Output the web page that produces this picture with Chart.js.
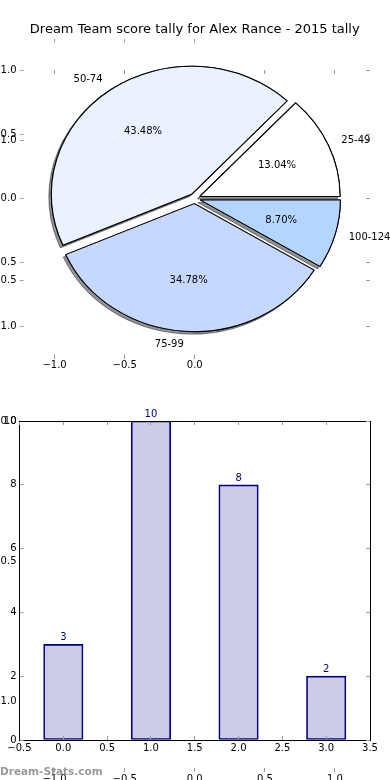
<!DOCTYPE html>
<html>
<head>
<meta charset="utf-8">
<title>Dream Team score tally</title>
<script src="https://cdn.jsdelivr.net/npm/chart.js@4.4.1/dist/chart.umd.min.js"></script>
<style>
  body { margin: 0; background: #fff; }
  #figure { position: relative; width: 390px; height: 780px; overflow: hidden; }
  #figure canvas { position: absolute; left: 0; top: 0; }
</style>
</head>
<body>
<div id="figure">
  <canvas id="outerAxes" width="390" height="820"></canvas>
  <canvas id="pieAxes" width="390" height="780"></canvas>
  <canvas id="pieChart" width="390" height="780"></canvas>
  <canvas id="barChart" width="390" height="780"></canvas>
</div>
<script>
// Chart data
const chartTitle = 'Dream Team score tally for Alex Rance - 2015 tally';
const scoreRanges = ['25-49', '50-74', '75-99', '100-124'];
const gameCounts = [3, 10, 8, 2];
const barIndex = [0, 1, 2, 3];
const explodeFraction = 0.04;
const barWidthUnits = 0.45;
const watermark = 'Dream-Stats.com';

// Tick labels
const unitTicks = [-1.0, -0.5, 0.0, 0.5, 1.0];
const pieXTicks = [-1.0, -0.5, 0.0];
const barXTicks = [-0.5, 0.0, 0.5, 1.0, 1.5, 2.0, 2.5, 3.0, 3.5];
const barYTicks = [0, 2, 4, 6, 8, 10];

// Styles
const sliceColours = ['#ffffff', '#eaf1ff', '#c5d8ff', '#b3d5ff'];
const FONT = 'DejaVu Sans';
const TICK_GREY = '#9a9a9a';
const NAVY = '#000080';
const PIE_R = 128;            // vertical radius in px
const SX = 140.2 / PIE_R;     // pie is wider than tall (no equal aspect)
const LABEL_ROOM = 30;        // room for labels below the bottom axes

function fmtUnit(v) {
    return (v < 0 ? '\u2212' : '') + Math.abs(v).toFixed(1);
}

// padding so that the plot area lands exactly on box
function boxPadding(box, leftSize, bottomSize, canvasHeight) {
    return {
        left: box.left - leftSize,
        top: box.top,
        right: 390 - box.right,
        bottom: Math.max((canvasHeight || 780) - box.bottom - bottomSize, 0)
    };
}

// matplotlib style axis: ticks point inward, optional labels / spine
function axis(position, min, max, ticks, opts) {
    opts = opts || {};
    const horizontal = position === 'top' || position === 'bottom';
    return {
        type: 'linear',
        position: position,
        min: min,
        max: max,
        offset: false,
        afterBuildTicks: function (scale) {
            scale.ticks = ticks.map(function (v) { return { value: v }; });
        },
        afterFit: function (scale) {
            if (horizontal) scale.height = opts.size || 0; else scale.width = opts.size || 0;
        },
        grid: { offset: false, drawOnChartArea: false, drawTicks: true, tickLength: -4, tickColor: TICK_GREY, tickWidth: 1, z: 1 },
        border: { display: !!opts.frame, color: '#000', width: 1, z: 1 },
        ticks: {
            display: !!opts.labels,
            padding: opts.padding || 0,
            color: '#000',
            font: { family: FONT, size: 10 },
            maxRotation: 0,
            autoSkip: false,
            callback: opts.format || fmtUnit
        }
    };
}

const baseOptions = {
    responsive: false,
    animation: false,
    devicePixelRatio: 1,
    events: [],
    plugins: { legend: { display: false }, tooltip: { enabled: false } }
};

// Empty full-height axes behind everything (canvas runs past the bottom edge)
const outerBox = { left: 19.5, right: 370, top: 70, bottom: 772 };
new Chart(document.getElementById('outerAxes'), {
    type: 'scatter',
    data: { datasets: [] },
    options: Object.assign({}, baseOptions, {
        layout: { padding: boxPadding(outerBox, outerBox.left, LABEL_ROOM, 820) },
        scales: {
            x: axis('bottom', -1.25, 1.25, unitTicks, { labels: true, padding: 5, size: LABEL_ROOM }),
            y: axis('left', -1.25, 1.25, unitTicks, { labels: true, padding: 7, size: outerBox.left }),
            x2: axis('top', -1.25, 1.25, unitTicks),
            y2: axis('right', -1.25, 1.25, unitTicks)
        }
    })
});

// Axes of the pie (no frame) + title
const pieBox = { left: 19.5, right: 370, top: 38.5, bottom: 358.5 };
const titlePlugin = {
    id: 'figTitle',
    afterDraw: function (chart) {
        const ctx = chart.ctx;
        ctx.save();
        ctx.font = '13px "' + FONT + '"';
        ctx.fillStyle = '#000';
        ctx.textAlign = 'center';
        ctx.textBaseline = 'middle';
        ctx.fillText(chartTitle, 194.75, 30);
        ctx.restore();
    }
};
new Chart(document.getElementById('pieAxes'), {
    type: 'scatter',
    data: { datasets: [] },
    plugins: [titlePlugin],
    options: Object.assign({}, baseOptions, {
        layout: { padding: boxPadding(pieBox, pieBox.left, LABEL_ROOM) },
        scales: {
            x: axis('bottom', -1.25, 1.25, pieXTicks, { labels: true, padding: 5, size: LABEL_ROOM }),
            y: axis('left', -1.25, 1.25, unitTicks, { labels: true, padding: 7, size: pieBox.left }),
            x2: axis('top', -1.25, 1.25, pieXTicks),
            y2: axis('right', -1.25, 1.25, unitTicks)
        }
    })
});

// Pie: stretched horizontally, exploded, shadow under the wedges
const total = gameCounts.reduce(function (a, b) { return a + b; }, 0);
const pieLabels = scoreRanges.slice().reverse();
const pieValues = gameCounts.slice().reverse();
const pieFills = sliceColours.slice().reverse();

function drawWedges(ctx, arcs) {
    const e = explodeFraction * PIE_R;
    arcs.forEach(function (arc) {
        const mid = (arc.startAngle + arc.endAngle) / 2;
        ctx.save();
        ctx.translate(Math.cos(mid) * e, Math.sin(mid) * e);
        arc.draw(ctx);
        ctx.restore();
    });
}

const pieStretch = {
    id: 'pieStretch',
    beforeDatasetsDraw: function (chart) {
        const ctx = chart.ctx;
        const arcs = chart.getDatasetMeta(0).data;
        const cx = arcs[0].x, cy = arcs[0].y;
        ctx.save();
        ctx.translate(cx, cy);
        ctx.scale(SX, 1);
        ctx.translate(-cx, -cy);
        ctx.save();
        ctx.shadowColor = 'rgba(0,0,0,0.42)';
        ctx.shadowOffsetX = -2.5;
        ctx.shadowOffsetY = 2.5;
        ctx.shadowBlur = 0;
        drawWedges(ctx, arcs);
        ctx.restore();
        drawWedges(ctx, arcs);
        ctx.restore();
        return false;
    },
    afterDraw: function (chart) {
        const ctx = chart.ctx;
        const arcs = chart.getDatasetMeta(0).data;
        const e = explodeFraction * PIE_R;
        ctx.save();
        ctx.font = '10px "' + FONT + '"';
        ctx.fillStyle = '#000';
        ctx.textBaseline = 'middle';
        arcs.forEach(function (arc, i) {
            const mid = (arc.startAngle + arc.endAngle) / 2;
            const r = arc.outerRadius;
            const c = Math.cos(mid), s = Math.sin(mid);
            const lx = arc.x + SX * (1.1 * r + e) * c;
            const ly = arc.y + (1.1 * r + e) * s;
            ctx.textAlign = lx > arc.x ? 'left' : 'right';
            ctx.fillText(pieLabels[i], lx, ly);
            ctx.textAlign = 'center';
            const pct = (pieValues[i] / total * 100).toFixed(2) + '%';
            ctx.fillText(pct, arc.x + SX * (0.6 * r + e) * c, arc.y + (0.6 * r + e) * s);
        });
        ctx.restore();
    }
};

new Chart(document.getElementById('pieChart'), {
    type: 'pie',
    data: {
        labels: pieLabels,
        datasets: [{
            data: pieValues,
            backgroundColor: pieFills,
            borderColor: '#000',
            borderWidth: 1,
            hoverOffset: 0
        }]
    },
    plugins: [pieStretch],
    options: Object.assign({}, baseOptions, {
        layout: { padding: { left: 0, right: 0.5, top: 0, bottom: 383 } },
        rotation: 90,
        radius: PIE_R
    })
});

// Bar chart
const barBox = { left: 19.5, right: 370, top: 421, bottom: 740 };
const barUnitPx = (barBox.right - barBox.left) / (barXTicks[barXTicks.length - 1] - barXTicks[0]);
const barExtras = {
    id: 'barExtras',
    beforeDraw: function (chart) {
        const a = chart.chartArea;
        const ctx = chart.ctx;
        ctx.save();
        ctx.fillStyle = '#fff';
        ctx.fillRect(a.left, a.top, a.right - a.left, a.bottom - a.top);
        ctx.restore();
    },
    afterDatasetsDraw: function (chart) {
        const ctx = chart.ctx;
        const bars = chart.getDatasetMeta(0).data;
        ctx.save();
        ctx.font = '10px "' + FONT + '"';
        ctx.fillStyle = NAVY;
        ctx.textAlign = 'center';
        ctx.textBaseline = 'alphabetic';
        bars.forEach(function (bar, i) {
            ctx.fillText(String(gameCounts[i]), bar.x, bar.y - 4);
        });
        ctx.restore();
    },
    afterDraw: function (chart) {
        const ctx = chart.ctx;
        ctx.save();
        ctx.font = 'bold 10.5px "' + FONT + '"';
        ctx.fillStyle = 'rgba(128,128,128,0.8)';
        ctx.textAlign = 'left';
        ctx.textBaseline = 'alphabetic';
        ctx.fillText(watermark, 0, 775);
        ctx.restore();
    }
};

new Chart(document.getElementById('barChart'), {
    type: 'bar',
    data: {
        datasets: [{
            data: barIndex.map(function (x, i) { return { x: x, y: gameCounts[i] }; }),
            backgroundColor: 'rgba(0,0,128,0.2)',
            borderColor: NAVY,
            borderWidth: 1,
            borderSkipped: false,
            barThickness: barWidthUnits * barUnitPx
        }]
    },
    plugins: [barExtras],
    options: Object.assign({}, baseOptions, {
        layout: { padding: boxPadding(barBox, barBox.left, LABEL_ROOM) },
        scales: {
            x: axis('bottom', -0.5, 3.5, barXTicks, { labels: true, frame: true, padding: 6, size: LABEL_ROOM }),
            y: axis('left', 0, 10, barYTicks, { labels: true, frame: true, padding: 7, size: barBox.left, format: function (v) { return String(v); } }),
            x2: axis('top', -0.5, 3.5, barXTicks, { frame: true }),
            y2: axis('right', 0, 10, barYTicks, { frame: true })
        }
    })
});
</script>
</body>
</html>
